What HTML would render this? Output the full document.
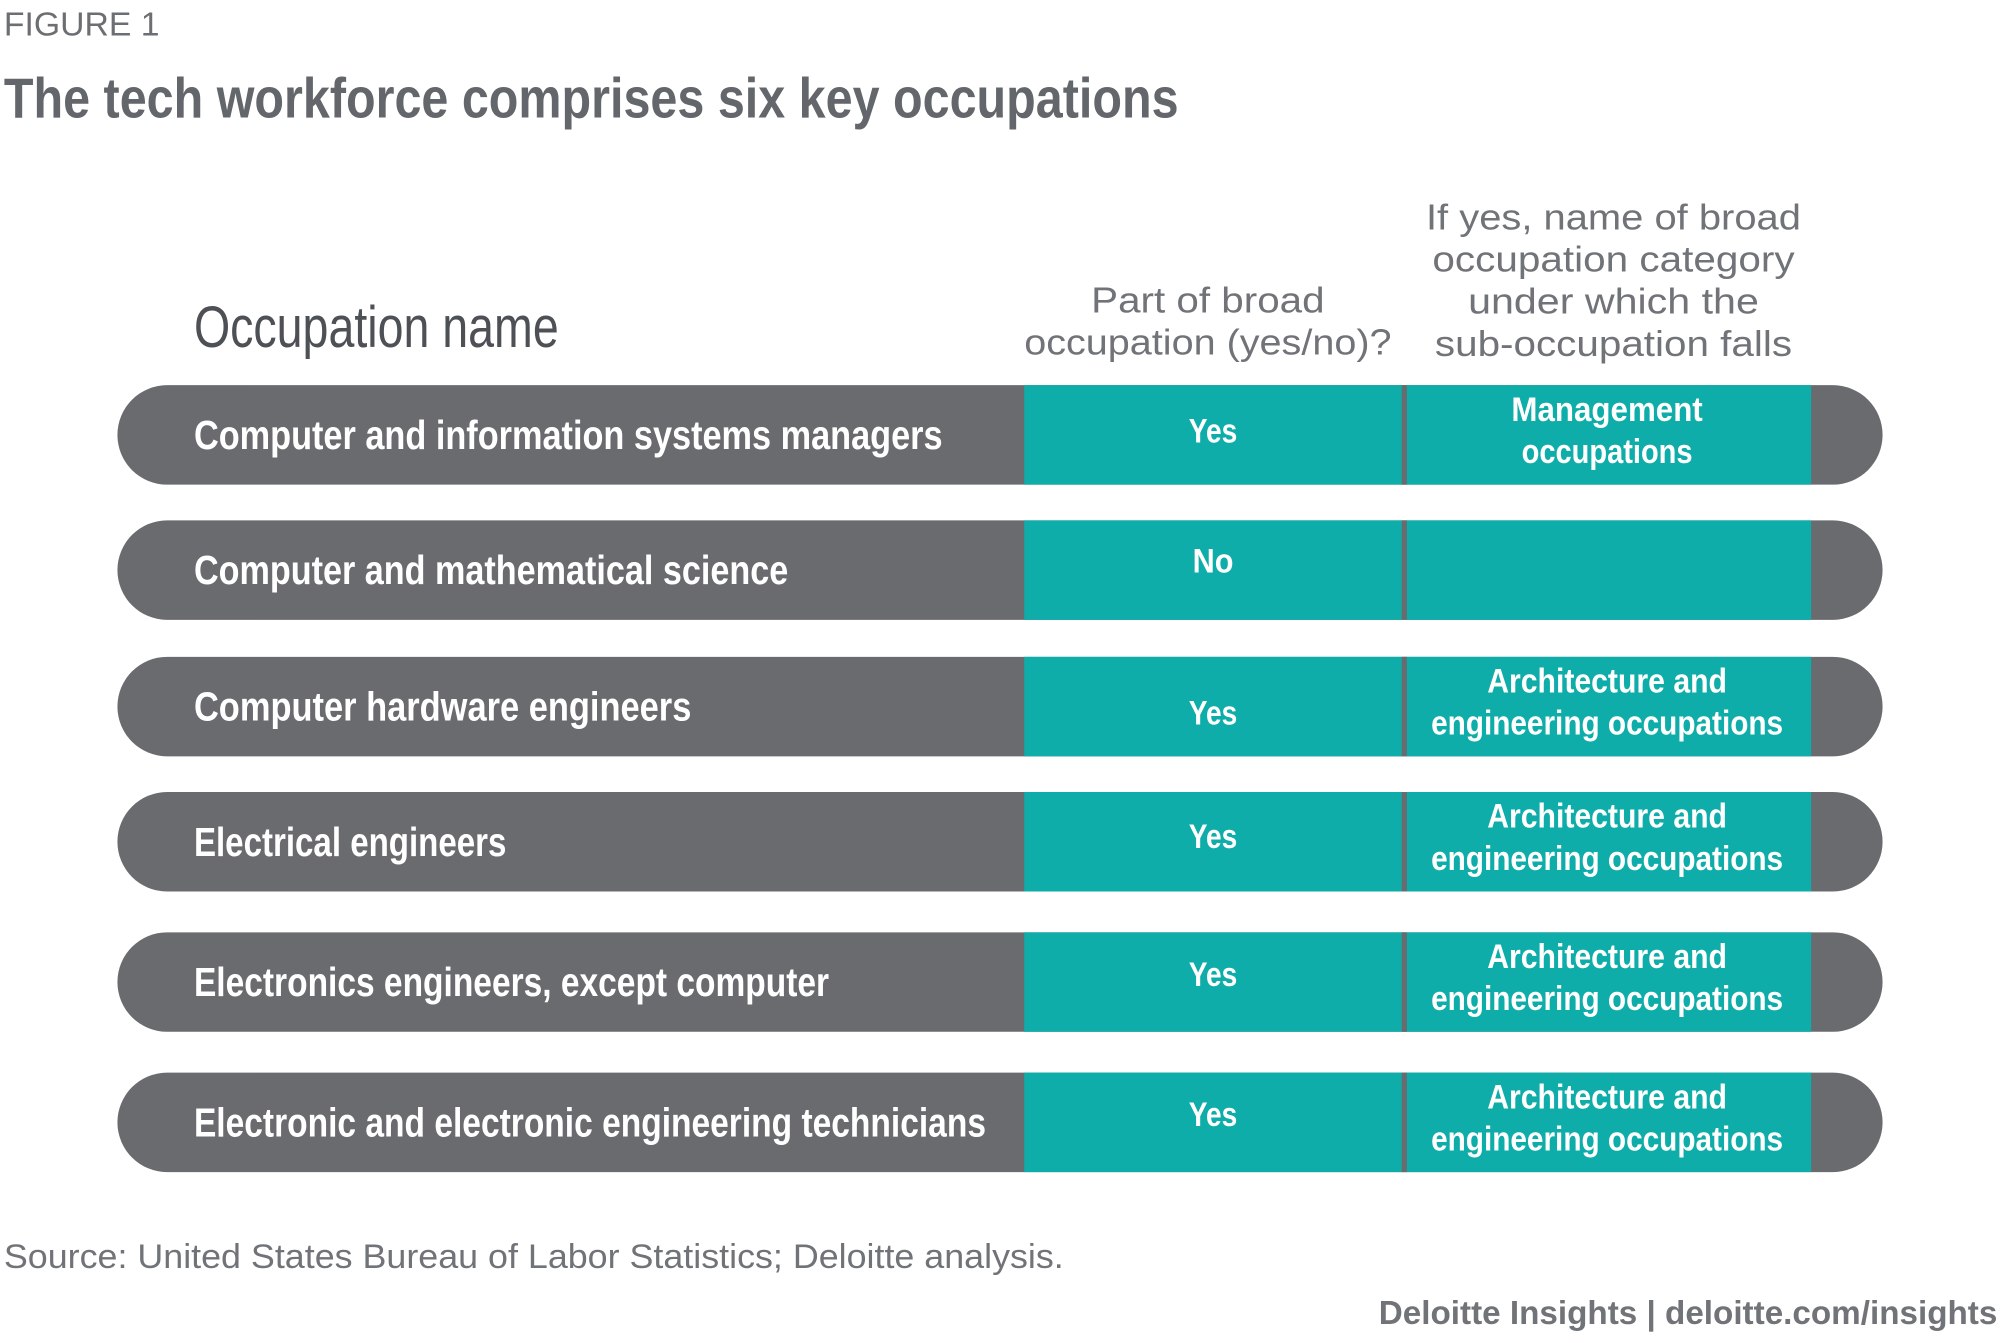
<!DOCTYPE html>
<html><head><meta charset="utf-8">
<style>
html,body{margin:0;padding:0;background:#fff;}
svg{display:block;font-family:"Liberation Sans",sans-serif;}
</style></head>
<body>
<svg id="fig" width="2000" height="1343" viewBox="0 0 1568 1053" xmlns="http://www.w3.org/2000/svg">
<text x="3" y="28" font-size="26" fill="#6b6e72" textLength="122" lengthAdjust="spacingAndGlyphs">FIGURE 1</text>
<text x="3" y="92" font-size="44" font-weight="bold" fill="#63666a" textLength="921" lengthAdjust="spacingAndGlyphs">The tech workforce comprises six key occupations</text>
<text x="152" y="272" font-size="46" fill="#4d5054" textLength="286" lengthAdjust="spacingAndGlyphs">Occupation name</text>
<g font-size="28" fill="#707377" text-anchor="middle">
<text x="947" y="245" textLength="183" lengthAdjust="spacingAndGlyphs">Part of broad</text>
<text x="947" y="278" textLength="288" lengthAdjust="spacingAndGlyphs">occupation (yes/no)?</text>
</g>
<g font-size="28" fill="#707377" text-anchor="middle">
<text x="1265" y="180" textLength="294" lengthAdjust="spacingAndGlyphs">If yes, name of broad</text>
<text x="1265" y="213" textLength="284" lengthAdjust="spacingAndGlyphs">occupation category</text>
<text x="1265" y="246" textLength="228" lengthAdjust="spacingAndGlyphs">under which the</text>
<text x="1265" y="279" textLength="280" lengthAdjust="spacingAndGlyphs">sub-occupation falls</text>
</g>
<g id="rows"></g>
<text x="3" y="994" font-size="27" fill="#707377" textLength="831" lengthAdjust="spacingAndGlyphs">Source: United States Bureau of Labor Statistics; Deloitte analysis.</text>
<text x="1566" y="1038" font-size="26" font-weight="bold" fill="#707377" text-anchor="end" textLength="485" lengthAdjust="spacingAndGlyphs">Deloitte Insights | deloitte.com/insights</text>
</svg>
<script>
const occupations = ["Computer and information systems managers","Computer and mathematical science","Computer hardware engineers","Electrical engineers","Electronics engineers, except computer","Electronic and electronic engineering technicians"];
const partOfBroad = ["Yes","No","Yes","Yes","Yes","Yes"];
const broadCategory = [["Management","occupations"],[],["Architecture and","engineering occupations"],["Architecture and","engineering occupations"],["Architecture and","engineering occupations"],["Architecture and","engineering occupations"]];
const rowTops = [302,408,515,621,731,841];
const labelWidths = [587,466,390,245,498,621];
const yesOffsets = [-4,-8,4,-5,-7,-7];

const NS="http://www.w3.org/2000/svg";
const g=document.getElementById('rows');
function mk(tag,attrs,parent){const e=document.createElementNS(NS,tag);for(const k in attrs)e.setAttribute(k,attrs[k]);parent.appendChild(e);return e;}
occupations.forEach((name,i)=>{
  const top=rowTops[i], h=78, cy=top+h/2;
  const row=mk('g',{},g);
  
  
  const pill=mk('rect',{x:92,y:top,width:1384,height:h,rx:39,ry:39,fill:'#696b6f'},row);
  
  
  const teal=mk('rect',{x:803,y:top,width:617,height:h,fill:'#0fada9'},row);
  
  
  const div=mk('rect',{x:1099,y:top,width:4,height:h,fill:'#696b6f'},row);
  
  
  const t=mk('text',{x:152,y:cy+11,'font-size':32,'font-weight':'bold',fill:'#fff',textLength:labelWidths[i],lengthAdjust:'spacingAndGlyphs'},row);
  t.textContent=name;
  
  
  const yn=mk('text',{x:951,y:cy+10+yesOffsets[i],'font-size':27,'font-weight':'bold',fill:'#fff','text-anchor':'middle',textLength:partOfBroad[i]==='Yes'?38:32,lengthAdjust:'spacingAndGlyphs'},row);
  yn.textContent=partOfBroad[i];
  
  
  const lines=broadCategory[i];
  lines.forEach((ln,j)=>{
    const w = ln==='Management'?150:(ln==='occupations'?134:(ln==='Architecture and'?188:276));
    const c=mk('text',{x:1260,y:cy-1+(j===0?-10:23),'font-size':27,'font-weight':'bold',fill:'#fff','text-anchor':'middle',textLength:w,lengthAdjust:'spacingAndGlyphs'},row);
    c.textContent=ln;
    
    
  });
});
</script>
</body></html>
